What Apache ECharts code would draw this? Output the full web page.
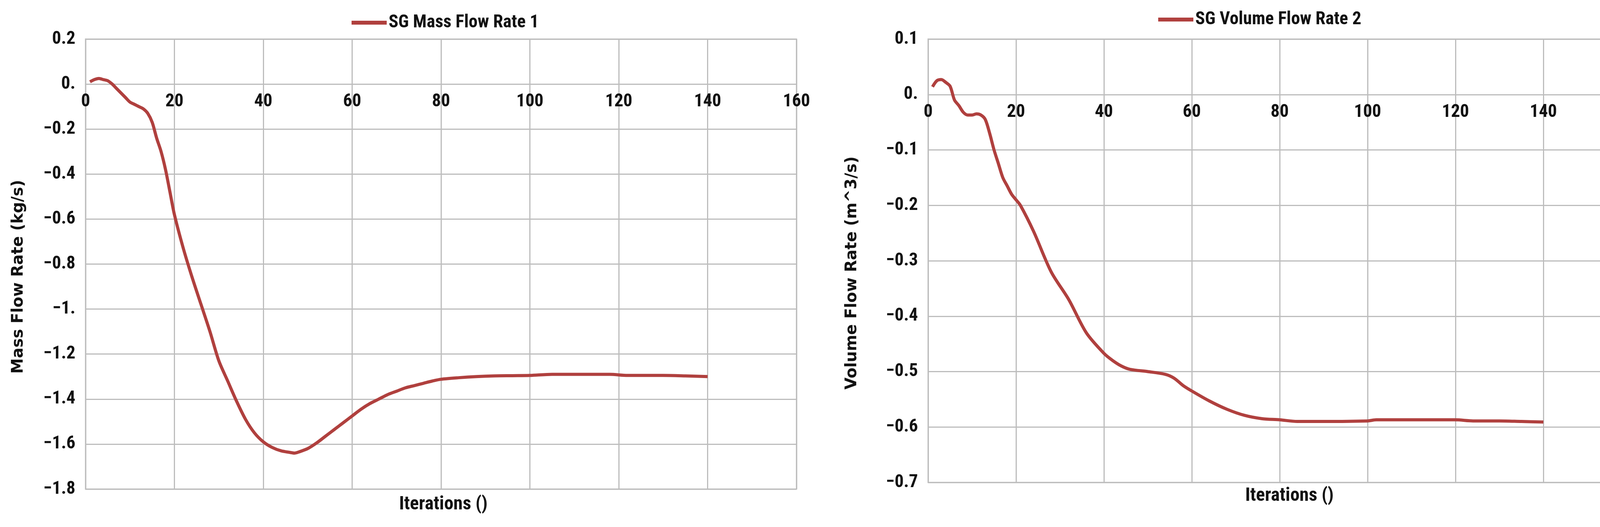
<!DOCTYPE html>
<html>
<head>
<meta charset="utf-8">
<script src="https://cdn.jsdelivr.net/npm/echarts@6/dist/echarts.min.js"></script>
<style>html,body{margin:0;padding:0;background:#fff}#main{width:4249px;height:1348px}</style>
</head>
<body>
<div id="main"></div>
<script>
// left chart: SG Mass Flow Rate 1
var massX = [1,2,3,4,5,6,7,8,9,10,11,12,13,14,15,16,17,18,19,20,22,24,26,28,30,32,34,36,38,40,42,44,46,47,48,50,52,54,56,58,60,62,64,66,68,70,72,74,76,78,80,84,88,92,96,100,105,110,115,118,122,126,130,135,140];
var massY = [0.01,0.02,0.025,0.02,0.015,0.0,-0.02,-0.04,-0.06,-0.08,-0.09,-0.1,-0.11,-0.13,-0.17,-0.24,-0.3,-0.38,-0.48,-0.58,-0.73,-0.86,-0.98,-1.1,-1.23,-1.32,-1.41,-1.49,-1.55,-1.59,-1.615,-1.63,-1.637,-1.64,-1.635,-1.62,-1.595,-1.565,-1.535,-1.505,-1.475,-1.445,-1.42,-1.4,-1.38,-1.365,-1.35,-1.34,-1.33,-1.32,-1.312,-1.305,-1.3,-1.297,-1.296,-1.295,-1.29,-1.29,-1.29,-1.29,-1.295,-1.295,-1.295,-1.297,-1.3];
// right chart: SG Volume Flow Rate 2
var volX = [1,2,3,4,5,6,7,8,9,10,11,12,13,14,15,16,17,18,19,20,21,24,28,32,36,40,42,44,46,50,54,56,58,60,64,68,72,76,80,84,90,100,102,110,120,124,130,135,140];
var volY = [0.014,0.025,0.027,0.022,0.015,-0.01,-0.02,-0.032,-0.037,-0.037,-0.035,-0.037,-0.045,-0.07,-0.1,-0.125,-0.15,-0.165,-0.18,-0.19,-0.2,-0.247,-0.32,-0.37,-0.43,-0.467,-0.48,-0.49,-0.496,-0.5,-0.505,-0.512,-0.525,-0.535,-0.553,-0.568,-0.579,-0.585,-0.587,-0.59,-0.59,-0.589,-0.587,-0.587,-0.587,-0.589,-0.589,-0.59,-0.591];

var LINE = '#B0403E';
var GRIDC = '#BDBDBD';
var NARROW = '"Liberation Sans Narrow","Roboto Condensed","Liberation Sans",sans-serif';

function zip(xs, ys){
	var out = [];
	for (var i = 0; i < xs.length; i++) out.push([xs[i], ys[i]]);
	return out;
}
function yFmt(v){
	var s = (Math.round(v*10)/10).toString();
	if (s.indexOf('.') < 0) s = s + '.';
	return s.replace('-', '\u2212');
}

// x axis line + labels sit on the y=0 line, pulled up with a negative offset
function xAxisOf(idx, offset){
	return {
		type:'value', gridIndex:idx, min:0, max:160, interval:20, position:'bottom', offset:offset,
		axisLine:{show:true, onZero:false, lineStyle:{color:GRIDC, width:3}},
		axisTick:{show:false},
		axisLabel:{color:'#111', fontSize:46, fontWeight:'bold', fontFamily:NARROW, margin:22, showMaxLabel:true, showMinLabel:true},
		splitLine:{show:true, lineStyle:{color:GRIDC, width:3}}
	};
}
function yAxisOf(idx, min, max, interval){
	return {
		type:'value', gridIndex:idx, min:min, max:max, interval:interval,
		axisLine:{show:true, lineStyle:{color:GRIDC, width:3}},
		axisTick:{show:false},
		axisLabel:{color:'#111', fontSize:46, fontWeight:'bold', fontFamily:NARROW, margin:26, formatter:yFmt},
		splitLine:{show:true, lineStyle:{color:GRIDC, width:3}}
	};
}

var myChart = echarts.init(document.getElementById('main'));
myChart.setOption({
	backgroundColor:'#fff',
	animation:false,
	title:[
		{text:'Iterations ()', left:1130, top:1262, textAlign:'center', textStyle:{fontSize:48, fontWeight:'bold', fontFamily:NARROW, color:'#111'}},
		{text:'Iterations ()', left:3296, top:1240, textAlign:'center', textStyle:{fontSize:48, fontWeight:'bold', fontFamily:NARROW, color:'#111'}}
	],
	graphic:[
		{type:'text', left:28, top:460, rotation:Math.PI/2, style:{text:'Mass Flow Rate (kg/s)', fontSize:40, fontWeight:'bold', fontFamily:'"DejaVu Sans",sans-serif', fill:'#111'}},
		{type:'text', left:2162, top:400, rotation:Math.PI/2, style:{text:'Volume Flow Rate (m^3/s)', fontSize:40, fontWeight:'bold', fontFamily:'"DejaVu Sans",sans-serif', fill:'#111'}}
	],
	legend:[
		{data:['SG Mass Flow Rate 1'], left:895, top:30, itemWidth:90, itemHeight:10, icon:'rect',
		 textStyle:{fontSize:46, fontWeight:'bold', fontFamily:NARROW, color:'#111'}},
		{data:['SG Volume Flow Rate 2'], left:2960, top:22, itemWidth:90, itemHeight:10, icon:'rect',
		 textStyle:{fontSize:46, fontWeight:'bold', fontFamily:NARROW, color:'#111'}}
	],
	grid:[
		{left:219, top:100, width:1820, height:1151, show:true, borderColor:GRIDC, borderWidth:3},
		{left:2376, top:100, width:1800, height:1134, show:true, borderColor:GRIDC, borderWidth:3}
	],
	xAxis:[xAxisOf(0, -1036), xAxisOf(1, -992)],
	yAxis:[yAxisOf(0, -1.8, 0.2, 0.2), yAxisOf(1, -0.7, 0.1, 0.1)],
	series:[
		{name:'SG Mass Flow Rate 1', type:'line', xAxisIndex:0, yAxisIndex:0, data:zip(massX, massY),
		 showSymbol:false, symbol:'none', smooth:0.3, lineStyle:{color:LINE, width:8}, itemStyle:{color:LINE}},
		{name:'SG Volume Flow Rate 2', type:'line', xAxisIndex:1, yAxisIndex:1, data:zip(volX, volY),
		 showSymbol:false, symbol:'none', smooth:0.3, lineStyle:{color:LINE, width:8}, itemStyle:{color:LINE}}
	]
});
</script>
</body>
</html>
